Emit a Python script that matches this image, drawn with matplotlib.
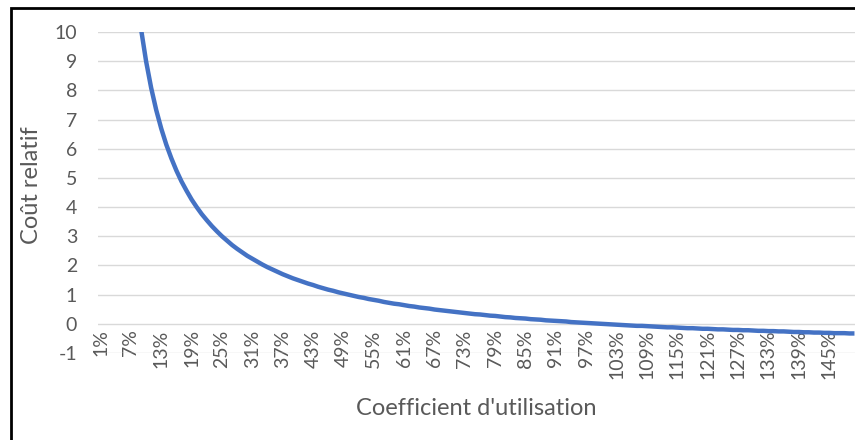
import matplotlib
matplotlib.use("Agg")
import matplotlib.pyplot as plt
from matplotlib.patches import Rectangle

plt.rcParams['font.family'] = ['Lato', 'DejaVu Sans']

# Utilisation coefficient categories (1% .. 150%)
categories = [f"{p}%" for p in range(1, 151)]

# Relative cost
cout_relatif = [
    99, 49, 32.33, 24, 19, 15.67, 13.29, 11.5, 10.11, 9,
    8.09, 7.33, 6.69, 6.14, 5.67, 5.25, 4.88, 4.56, 4.26, 4,
    3.76, 3.55, 3.35, 3.17, 3, 2.85, 2.70, 2.57, 2.45, 2.33,
    2.23, 2.13, 2.03, 1.94, 1.86, 1.78, 1.70, 1.63, 1.56, 1.5,
    1.44, 1.38, 1.33, 1.27, 1.22, 1.17, 1.13, 1.08, 1.04, 1,
    0.96, 0.92, 0.89, 0.85, 0.82, 0.79, 0.75, 0.72, 0.69, 0.67,
    0.64, 0.61, 0.59, 0.56, 0.54, 0.52, 0.49, 0.47, 0.45, 0.43,
    0.41, 0.39, 0.37, 0.35, 0.33, 0.32, 0.30, 0.28, 0.27, 0.25,
    0.23, 0.22, 0.20, 0.19, 0.18, 0.16, 0.15, 0.14, 0.12, 0.11,
    0.10, 0.09, 0.08, 0.06, 0.05, 0.04, 0.03, 0.02, 0.01, 0,
    -0.01, -0.02, -0.03, -0.04, -0.05, -0.06, -0.07, -0.07, -0.08, -0.09,
    -0.10, -0.11, -0.12, -0.12, -0.13, -0.14, -0.15, -0.15, -0.16, -0.17,
    -0.17, -0.18, -0.19, -0.19, -0.20, -0.21, -0.21, -0.22, -0.22, -0.23,
    -0.24, -0.24, -0.25, -0.25, -0.26, -0.26, -0.27, -0.28, -0.28, -0.29,
    -0.29, -0.30, -0.30, -0.31, -0.31, -0.32, -0.32, -0.32, -0.33, -0.33,
]

y_ticks = list(range(-1, 11))
label_step = 6

W, H = 855, 440
fig = plt.figure(figsize=(W / 100, H / 100), dpi=100)

left_px, right_px = 98, 855
top_px, bottom_px = 32, 353
ax = fig.add_axes([left_px / W, 1 - bottom_px / H,
                   (right_px - left_px) / W, (bottom_px - top_px) / H])

for s in ax.spines.values():
    s.set_visible(False)
ax.spines['bottom'].set_position(('data', 0))

x = list(range(len(categories)))
ax.plot(x, cout_relatif, color='#4472C4', lw=3.2, solid_capstyle='butt', zorder=3)

cat_w = 5.06
ax.set_xlim(-0.5, -0.5 + (right_px - left_px) / cat_w)
ax.set_ylim(-1, 10)

ax.set_yticks(y_ticks)
ax.set_yticklabels([str(v) for v in y_ticks])
ax.grid(axis='y', color='#D9D9D9', lw=1.0)
ax.set_axisbelow(True)

tick_pos = x[::label_step]
ax.set_xticks(tick_pos)
ax.set_xticklabels([categories[i] for i in tick_pos])

ax.tick_params(axis='x', length=0, pad=4, labelsize=14, colors='#595959',
               labelrotation=90)
ax.tick_params(axis='y', length=0, pad=15, labelsize=14, colors='#595959')

fig.text(31 / W, 1 - 185 / H, 'Coût relatif', rotation=90, ha='center', va='center',
         fontsize=17, color='#595959')
fig.text(476 / W, 1 - 408 / H, "Coefficient d'utilisation", ha='center', va='center',
         fontsize=17, color='#595959')

fig.patches.append(Rectangle((11 / W, -0.1), 1.2, 1 - 8 / H + 0.1,
                             transform=fig.transFigure, fill=False,
                             edgecolor='black', lw=2.0, zorder=10))

fig.savefig('out.png', dpi=100)
